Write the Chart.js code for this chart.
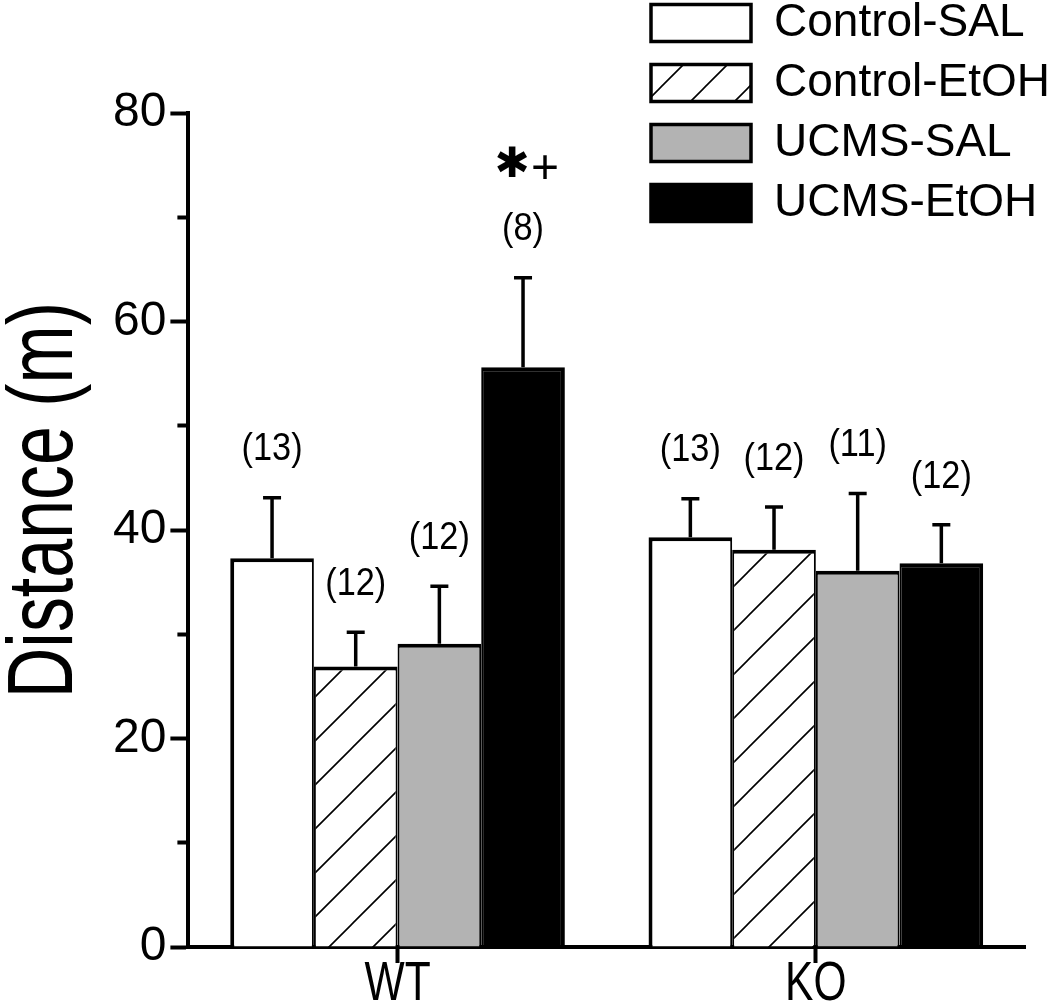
<!DOCTYPE html>
<html><head><meta charset="utf-8">
<script src="https://cdn.jsdelivr.net/npm/chart.js@4.4.1/dist/chart.umd.min.js"></script>
<style>html,body{margin:0;padding:0;background:#fff}canvas{display:block}</style>
</head><body>
<canvas id="c" width="1050" height="1008"></canvas>
<script>
// ---- data ----
const groups = ['WT', 'KO'];
const seriesNames = ['Control-SAL', 'Control-EtOH', 'UCMS-SAL', 'UCMS-EtOH'];
const controlSal = [37.3, 39.3];
const controlSalErr = [5.8, 3.7];
const controlEtoh = [26.9, 38.1];
const controlEtohErr = [3.3, 4.1];
const ucmsSal = [29.1, 36.1];
const ucmsSalErr = [5.5, 7.4];
const ucmsEtoh = [55.6, 36.8];
const ucmsEtohErr = [8.6, 3.7];
const controlSalN = ['(13)', '(13)'];
const controlEtohN = ['(12)', '(12)'];
const ucmsSalN = ['(12)', '(11)'];
const ucmsEtohN = ['(8)', '(12)'];
const ucmsEtohSig = [['\u2731', '+'], null];
const yMajorTicks = [0, 20, 40, 60, 80];
const yTitle = 'Distance (m)';

// ---- helpers ----
const SANS = '"Liberation Sans", Arial, sans-serif';

function makeHatch() {
  const s = 44;
  const p = document.createElement('canvas');
  p.width = s; p.height = s;
  const g = p.getContext('2d');
  g.fillStyle = '#ffffff'; g.fillRect(0, 0, s, s);
  g.strokeStyle = '#000'; g.lineWidth = 1.6;
  g.beginPath();
  g.moveTo(-2, s + 2); g.lineTo(s + 2, -2);
  g.moveTo(-4, 4); g.lineTo(4, -4);
  g.moveTo(s - 4, s + 4); g.lineTo(s + 4, s - 4);
  g.stroke();
  return document.getElementById('c').getContext('2d').createPattern(p, 'repeat');
}
const hatch = makeHatch();

function drawCondensed(ctx, text, x, y, size, sx, align, baseline) {
  ctx.save();
  ctx.translate(x, y);
  ctx.scale(sx, 1);
  ctx.font = size + 'px ' + SANS;
  ctx.textAlign = align || 'center';
  ctx.textBaseline = baseline || 'middle';
  ctx.fillStyle = '#000';
  ctx.fillText(text, 0, 0);
  ctx.restore();
}

const errors = [controlSalErr, controlEtohErr, ucmsSalErr, ucmsEtohErr];
const nLabels = [controlSalN, controlEtohN, ucmsSalN, ucmsEtohN];
const sigLabels = [null, null, null, ucmsEtohSig];

// draw the x scale's own tick labels horizontally condensed
function condensedLabels(chartArea) {
  const ctx = this.ctx;
  const items = this.getLabelItems(chartArea);
  for (const item of items) {
    const o = item.options;
    const t = o.translation || [0, 0];
    ctx.save();
    ctx.translate(t[0], t[1]);
    if (o.rotation) ctx.rotate(o.rotation);
    ctx.scale(0.76, 1);
    ctx.font = item.font.string;
    ctx.fillStyle = o.color || '#000';
    ctx.textAlign = o.textAlign || 'center';
    ctx.textBaseline = o.textBaseline || 'top';
    ctx.fillText(String(item.label), 0, item.textOffset || 0);
    ctx.restore();
  }
}

const annotPlugin = {
  id: 'annot',
  afterLayout(chart) {
    const lg = chart.legend;
    if (lg) { lg.left = 637; lg.top = -14; lg.right = chart.width; }
    const xs = chart.scales.x;
    if (xs && typeof xs.getLabelItems === 'function' && !xs._condensed) {
      xs.drawLabels = condensedLabels;
      xs._condensed = true;
    }
  },
  afterDatasetsDraw(chart) {
    const ctx = chart.ctx;
    const ys = chart.scales.y;
    chart.data.datasets.forEach((ds, di) => {
      const meta = chart.getDatasetMeta(di);
      meta.data.forEach((el, i) => {
        const v = ds.data[i];
        const top = ys.getPixelForValue(v + errors[di][i]);
        ctx.save();
        ctx.strokeStyle = '#000';
        ctx.lineWidth = 3.5;
        ctx.beginPath();
        ctx.moveTo(el.x, el.y);
        ctx.lineTo(el.x, top);
        ctx.moveTo(el.x - 9, top);
        ctx.lineTo(el.x + 9, top);
        ctx.stroke();
        ctx.restore();
        const ny = top - 48;
        drawCondensed(ctx, nLabels[di][i], el.x, ny, 39, 0.88, 'center', 'middle');
        const sig = sigLabels[di] && sigLabels[di][i];
        if (sig) {
          ctx.save();
          ctx.fillStyle = '#000';
          ctx.textBaseline = 'middle';
          ctx.textAlign = 'center';
          ctx.font = '42px "DejaVu Sans", sans-serif';
          ctx.fillText(sig[0], el.x - 11, ny - 64);
          ctx.font = '48px ' + SANS;
          ctx.fillText(sig[1], el.x + 22, ny - 60);
          ctx.restore();
        }
      });
    });
    // y axis title
    ctx.save();
    ctx.translate(72, 500);
    ctx.rotate(-Math.PI / 2);
    ctx.scale(0.76, 1);
    ctx.font = '92px ' + SANS;
    ctx.textAlign = 'center';
    ctx.textBaseline = 'alphabetic';
    ctx.fillStyle = '#000';
    ctx.fillText(yTitle, 0, 0);
    ctx.restore();
  }
};

const common = { borderColor: '#000', borderSkipped: false, categoryPercentage: 0.8, barPercentage: 1.0 };
const datasets = [
  Object.assign({ label: seriesNames[0], data: controlSal, backgroundColor: '#ffffff',
    borderWidth: { left: 4, right: 2, top: 4, bottom: 0 } }, common),
  Object.assign({ label: seriesNames[1], data: controlEtoh, backgroundColor: hatch,
    borderWidth: { left: 2, right: 2, top: 4, bottom: 0 } }, common),
  Object.assign({ label: seriesNames[2], data: ucmsSal, backgroundColor: '#b3b3b3',
    borderWidth: { left: 2, right: 2, top: 4, bottom: 0 } }, common),
  Object.assign({ label: seriesNames[3], data: ucmsEtoh, backgroundColor: '#000000',
    borderWidth: { left: 2, right: 4, top: 4, bottom: 0 } }, common)
];

new Chart(document.getElementById('c'), {
  type: 'bar',
  data: { labels: groups, datasets },
  plugins: [annotPlugin],
  options: {
    responsive: false,
    animation: false,
    devicePixelRatio: 1,
    layout: { padding: { left: 109, right: 25, top: 113, bottom: 1 } },
    plugins: {
      tooltip: { enabled: false },
      legend: {
        position: 'chartArea',
        align: 'start',
        labels: {
          boxWidth: 100, boxHeight: 37, padding: 14, color: '#000', textAlign: 'left',
          font: { family: SANS, size: 46 },
          generateLabels(chart) {
            return Chart.defaults.plugins.legend.labels.generateLabels(chart)
              .map(l => Object.assign(l, { lineWidth: 3.5, strokeStyle: '#000' }));
          }
        }
      }
    },
    scales: {
      x: {
        grid: { display: true, drawOnChartArea: false, offset: false, tickLength: 16, tickWidth: 4, tickColor: '#000' },
        border: { display: true, color: '#000', width: 4 },
        ticks: {
          color: '#000', padding: -6,
          font: { family: SANS, size: 56, lineHeight: 1 }
        }
      },
      y: {
        min: 0, max: 80,
        grid: {
          display: true, drawOnChartArea: false, tickLength: 18, tickWidth: 4, tickColor: '#000',
          tickBorderDash: (c) => (c.tick && yMajorTicks.indexOf(c.tick.value) < 0) ? [0, 7, 11, 100] : []
        },
        border: { display: true, color: '#000', width: 4 },
        ticks: {
          stepSize: 10, color: '#000', padding: 4,
          font: { family: SANS, size: 48 },
          callback: (v) => yMajorTicks.indexOf(v) >= 0 ? String(v) : ''
        }
      }
    }
  }
});
</script>
</body></html>
